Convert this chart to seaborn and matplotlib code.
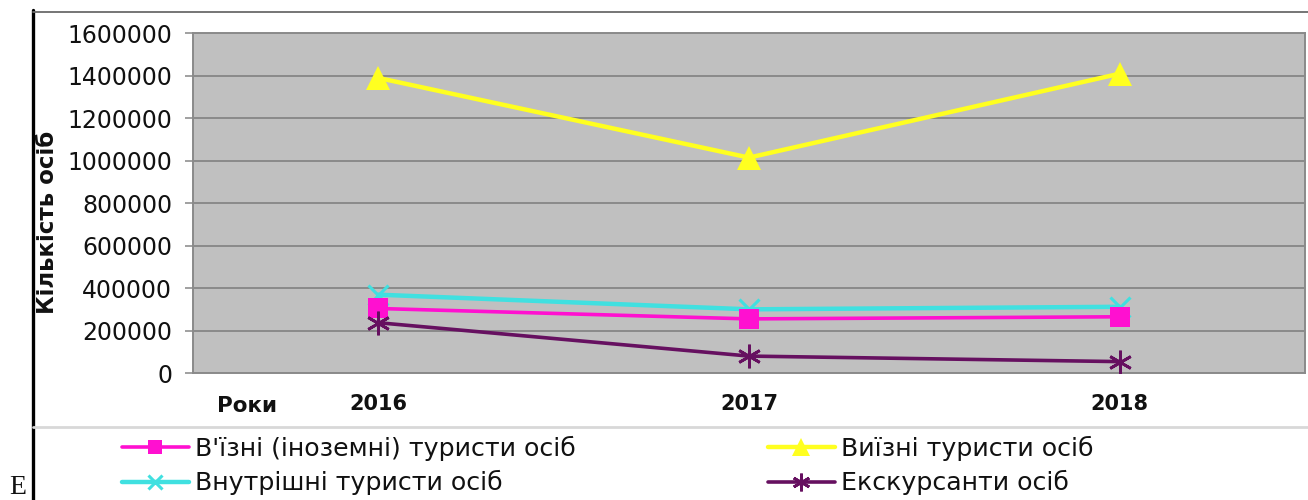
import matplotlib
matplotlib.use("Agg")
import matplotlib.pyplot as plt
from matplotlib.lines import Line2D
import seaborn as sns
import numpy as np

# ---- data ----
years = ["2016", "2017", "2018"]
inbound = [305000, 256000, 266000]        # В'їзні (іноземні) туристи осіб
outbound = [1390000, 1015000, 1410000]    # Виїзні туристи осіб
domestic = [370000, 301000, 313000]       # Внутрішні туристи осіб
excursion = [238000, 81000, 55000]        # Екскурсанти осіб

labels = ["В'їзні (іноземні) туристи осіб", "Виїзні туристи осіб",
          "Внутрішні туристи осіб", "Екскурсанти осіб"]
y_ticks = [0, 200000, 400000, 600000, 800000, 1000000, 1200000, 1400000, 1600000]

sns.set_theme(style="white")
plt.rcParams['font.family'] = ['DejaVu Sans']

W, H = 1308, 500
fig = plt.figure(figsize=(W / 100, H / 100), dpi=100)
fig.patch.set_facecolor("white")

def fx(px):
    return px / W

def fy(py):
    return 1 - py / H

ax = fig.add_axes([fx(193), fy(373.3), fx(1305) - fx(193), fy(33.3) - fy(373.3)])
ax.set_facecolor("#c0c0c0")

xpos = np.arange(len(years))

sns.lineplot(x=xpos, y=domestic, ax=ax, color="#40e0e0", lw=3.2, marker="x",
             markersize=14, markeredgewidth=2.2, markeredgecolor="#40e0e0",
             label=labels[2], zorder=3)
sns.lineplot(x=xpos, y=inbound, ax=ax, color="#ff10d0", lw=2.6, marker="s",
             markersize=14, markeredgewidth=0, markerfacecolor="#ff10d0",
             label=labels[0], zorder=4)
sns.lineplot(x=xpos, y=excursion, ax=ax, color="#661060", lw=2.6, marker=(6, 2, 0),
             markersize=17, markeredgewidth=2.0, markeredgecolor="#661060",
             label=labels[3], zorder=5)
sns.lineplot(x=xpos, y=outbound, ax=ax, color="#ffff20", lw=3.2, marker="^",
             markersize=17, markeredgewidth=0, markerfacecolor="#ffff20",
             label=labels[1], zorder=6)

ax.set_xlim(-0.5, len(years) - 0.5)
ax.set_ylim(0, 1600000)
ax.set_yticks(y_ticks)
ax.set_yticklabels([str(v) for v in y_ticks], fontsize=17, color="#111111")
ax.set_xticks(xpos)
ax.set_xticklabels(years, fontsize=15, fontweight="bold", color="#111111")
ax.set_xticks([0.5, 1.5], minor=True)
ax.tick_params(axis="x", which="major", length=0, pad=15)
ax.tick_params(axis="x", which="minor", length=7, color="#c8c8c8", width=1.2)
ax.tick_params(axis="y", which="major", length=6, color="#909090", width=1.2, pad=9,
               left=True)
ax.yaxis.grid(True, color="#8a8a8a", lw=1.4)
ax.xaxis.grid(False)
ax.set_axisbelow(True)
for s in ax.spines.values():
    s.set_visible(True)
    s.set_color("#8a8a8a")
    s.set_linewidth(1.4)
ax.set_xlabel("")
ax.set_ylabel("")
if ax.get_legend() is not None:
    ax.get_legend().remove()

# ---- labels ----
fig.text(fx(48), fy(222), "Кількість осіб", rotation=90, ha="center", va="center",
         fontsize=16.5, fontweight="bold", color="#111111")
fig.text(fx(217), fy(406), "Роки", ha="left", va="center", fontsize=15.5,
         fontweight="bold", color="#111111")
fig.text(fx(9), fy(499.5), "E", ha="left", va="bottom", fontsize=20,
         family="Liberation Serif", color="#111111")

# ---- frame decorations ----
fig.add_artist(Line2D([fx(33), fx(33)], [fy(10), fy(500)], color="black", lw=2.4))
fig.add_artist(Line2D([fx(33), fx(1308)], [fy(12), fy(12)], color="#6a6a6a", lw=1.3))
fig.add_artist(Line2D([fx(33), fx(1308)], [fy(427), fy(427)], color="#d8d8d8", lw=2.0))

# ---- legend ----
h, l = ax.get_legend_handles_labels()
hm = dict(zip(l, h))
common = dict(frameon=False, fontsize=18.2, handlelength=2.65, handletextpad=0.25,
              labelspacing=0.36, markerscale=0.75, borderpad=0, borderaxespad=0)
leg1 = fig.legend([hm[labels[0]], hm[labels[2]]], [labels[0], labels[2]],
                  loc="upper left", bbox_to_anchor=(fx(122), fy(436)), **common)
leg2 = fig.legend([hm[labels[1]], hm[labels[3]]], [labels[1], labels[3]],
                  loc="upper left", bbox_to_anchor=(fx(768), fy(436)), **common)
for lg in (leg1, leg2):
    for t in lg.get_texts():
        t.set_color("#111111")

fig.savefig("out.png", dpi=100)
